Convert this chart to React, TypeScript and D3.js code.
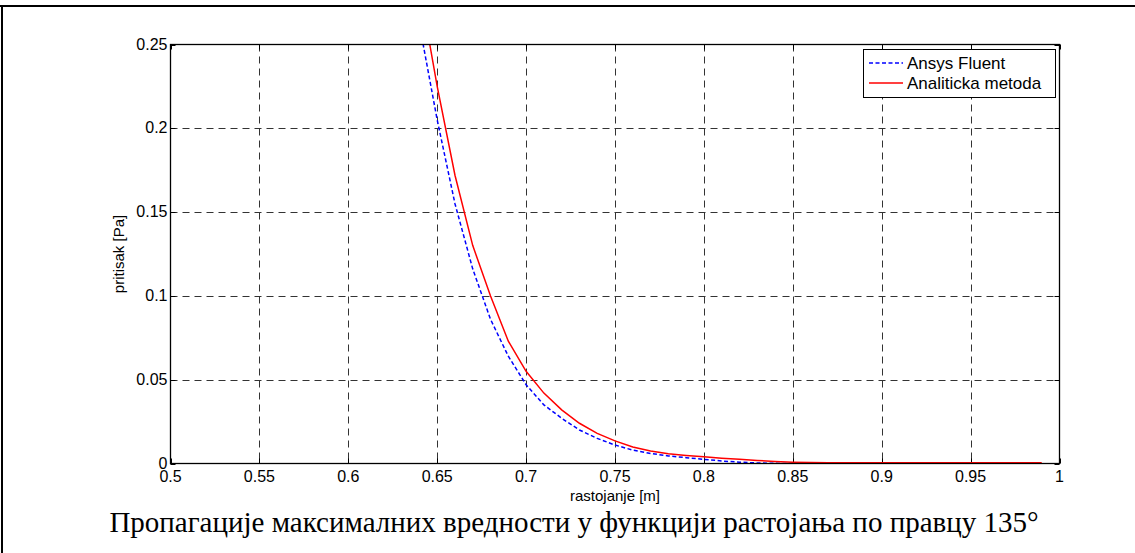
import React from 'react';
import * as d3 from 'd3';

const xTicks = [0.5, 0.55, 0.6, 0.65, 0.7, 0.75, 0.8, 0.85, 0.9, 0.95, 1];
const xTickLabels = ['0.5', '0.55', '0.6', '0.65', '0.7', '0.75', '0.8', '0.85', '0.9', '0.95', '1'];
const yTicks = [0, 0.05, 0.1, 0.15, 0.2, 0.25];
const yTickLabels = ['0', '0.05', '0.1', '0.15', '0.2', '0.25'];

const distance = [
  0.64, 0.65, 0.66, 0.67, 0.68, 0.69, 0.7, 0.71, 0.72, 0.73, 0.74, 0.75, 0.76, 0.77, 0.78, 0.79,
  0.8, 0.81, 0.82, 0.83, 0.84, 0.85, 0.86, 0.87, 0.88, 0.89, 0.9, 0.91, 0.92, 0.93, 0.94, 0.95,
  0.96, 0.97, 0.98, 0.99,
];
const ansysFluent = [
  0.262, 0.205, 0.155, 0.116, 0.086, 0.064, 0.047, 0.035, 0.027, 0.02, 0.015, 0.011, 0.008, 0.006,
  0.0045, 0.0035, 0.0025, 0.0015, 0.0008, 0.0003, 0.0001, 0, 0, 0, 0, 0, 0, 0, 0, 0, 0, 0, 0, 0, 0, 0,
];
const analitickaMetoda = [
  0.285, 0.225, 0.172, 0.13, 0.1, 0.073, 0.055, 0.042, 0.032, 0.024, 0.018, 0.0135, 0.0098, 0.0075,
  0.0058, 0.0048, 0.004, 0.0032, 0.0025, 0.0018, 0.0012, 0.0008, 0.0006, 0.0005, 0.0005, 0.0005,
  0.0005, 0.0005, 0.0005, 0.0005, 0.0005, 0.0005, 0.0005, 0.0005, 0.0005, 0.0005,
];

const seriesNames = ['Ansys Fluent', 'Analiticka metoda'];
const xLabel = 'rastojanje [m]';
const yLabel = 'pritisak [Pa]';
const caption = 'Пропагације максималних вредности у функцији растојања по правцу 135°';

const W = 1135;
const H = 553;
const L = 170.5;
const R = 1059.5;
const T = 44.5;
const B = 463.5;

export default function App() {
  const x = d3.scaleLinear().domain([0.5, 1]).range([L, R]);
  const y = d3.scaleLinear().domain([0, 0.25]).range([B, T]);
  const line = d3
    .line<number>()
    .x((_, i) => x(distance[i]))
    .y((d) => y(d));
  const sans = 'Liberation Sans, Arial, Helvetica, sans-serif';
  const tickLen = 5;

  return (
    <svg
      width={W}
      height={H}
      viewBox={`0 0 ${W} ${H}`}
      style={{ position: 'absolute', left: 0, top: 0, background: '#fff' }}
    >
      <rect x={0} y={0} width={W} height={H} fill="#fff" />
      {/* page frame */}
      <line x1={0} x2={W} y1={6} y2={6} stroke="#000" strokeWidth={2} />
      <line x1={2} x2={2} y1={5} y2={H} stroke="#000" strokeWidth={2} />

      <defs>
        <clipPath id="plotClip">
          <rect x={L} y={T} width={R - L} height={B - T} />
        </clipPath>
      </defs>

      {/* grid */}
      {xTicks.slice(1, -1).map((t) => (
        <line
          key={'gx' + t}
          x1={Math.round(x(t)) + 0.5}
          x2={Math.round(x(t)) + 0.5}
          y1={T}
          y2={B}
          stroke="#333"
          strokeWidth={1}
          strokeDasharray="7,5"
        />
      ))}
      {yTicks.slice(1, -1).map((t) => (
        <line
          key={'gy' + t}
          x1={L}
          x2={R}
          y1={Math.round(y(t)) + 0.5}
          y2={Math.round(y(t)) + 0.5}
          stroke="#333"
          strokeWidth={1}
          strokeDasharray="7,5"
        />
      ))}

      {/* ticks */}
      {xTicks.map((t) => (
        <g key={'tx' + t}>
          <line x1={Math.round(x(t)) + 0.5} x2={Math.round(x(t)) + 0.5} y1={B} y2={B - tickLen} stroke="#000" />
          <line x1={Math.round(x(t)) + 0.5} x2={Math.round(x(t)) + 0.5} y1={T} y2={T + tickLen} stroke="#000" />
        </g>
      ))}
      {yTicks.map((t) => (
        <g key={'ty' + t}>
          <line x1={L} x2={L + tickLen} y1={Math.round(y(t)) + 0.5} y2={Math.round(y(t)) + 0.5} stroke="#000" />
          <line x1={R} x2={R - tickLen} y1={Math.round(y(t)) + 0.5} y2={Math.round(y(t)) + 0.5} stroke="#000" />
        </g>
      ))}

      {/* data */}
      <g clipPath="url(#plotClip)">
        <path d={line(ansysFluent) || ''} fill="none" stroke="#0000ff" strokeWidth={1.5} strokeDasharray="4,2.5" />
        <path d={line(analitickaMetoda) || ''} fill="none" stroke="#ff0000" strokeWidth={1.5} />
      </g>

      {/* axes box */}
      <rect x={L} y={T} width={R - L} height={B - T} fill="none" stroke="#000" strokeWidth={1.3} />

      {/* tick labels */}
      {xTicks.map((t, i) => (
        <text key={'lx' + t} x={x(t)} y={482} textAnchor="middle" fontFamily={sans} fontSize={16} fill="#000">
          {xTickLabels[i]}
        </text>
      ))}
      {yTicks.map((t, i) => (
        <text
          key={'ly' + t}
          x={L - 3}
          y={y(t) + 5}
          textAnchor="end"
          fontFamily={sans}
          fontSize={16}
          fill="#000"
        >
          {yTickLabels[i]}
        </text>
      ))}

      {/* axis labels */}
      <text x={(L + R) / 2} y={501} textAnchor="middle" fontFamily={sans} fontSize={15} fill="#000">
        {xLabel}
      </text>
      <text
        transform={`translate(124, ${(T + B) / 2}) rotate(-90)`}
        textAnchor="middle"
        fontFamily={sans}
        fontSize={15}
        fill="#000"
      >
        {yLabel}
      </text>

      {/* legend */}
      <rect x={863.5} y={49.5} width={192} height={48} fill="#fff" stroke="#000" strokeWidth={1} />
      <line x1={869} x2={903} y1={63} y2={63} stroke="#0000ff" strokeWidth={1.5} strokeDasharray="4,2.5" />
      <line x1={869} x2={903} y1={83} y2={83} stroke="#ff0000" strokeWidth={1.5} />
      <text x={907} y={69} fontFamily={sans} fontSize={17} fill="#000">
        {seriesNames[0]}
      </text>
      <text x={907} y={89} fontFamily={sans} fontSize={17} fill="#000">
        {seriesNames[1]}
      </text>

      {/* caption */}
      <text
        x={574}
        y={532}
        textAnchor="middle"
        fontFamily="Liberation Serif, Times New Roman, serif"
        fontSize={29}
        fill="#000"
      >
        {caption}
      </text>
    </svg>
  );
}
